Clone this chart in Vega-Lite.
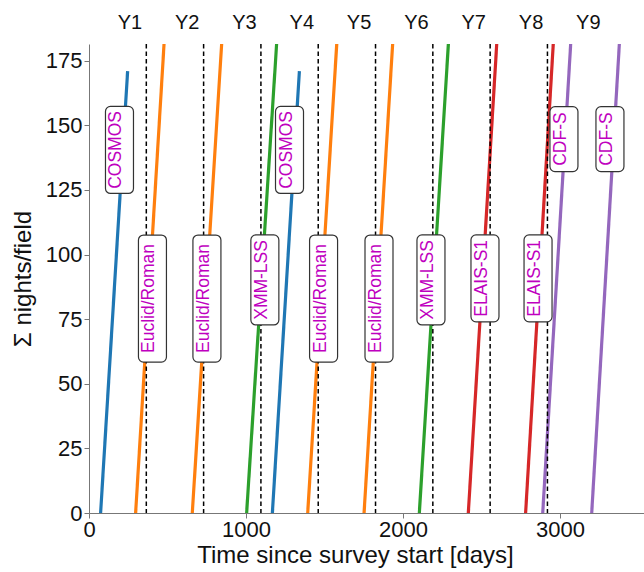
{
  "$schema": "https://vega.github.io/schema/vega-lite/v6.json",
  "width": 555,
  "height": 469,
  "autosize": "none",
  "padding": {"left": 89, "top": 44, "right": 0, "bottom": 59},
  "config": {
    "view": {"stroke": null},
    "font": "Liberation Sans",
    "axis": {
      "grid": false,
      "labelFont": "Liberation Sans",
      "titleFont": "Liberation Sans",
      "labelFontSize": 22,
      "titleFontSize": 24,
      "titleFontWeight": "normal",
      "labelColor": "#111",
      "titleColor": "#111",
      "domainColor": "#777",
      "tickColor": "#777",
      "tickSize": 5,
      "labelFlush": false,
      "labelOverlap": false
    }
  },
  "datasets": {
    "tracks": [
      {"seg": 1, "field": "COSMOS", "day": 74, "nights": 0},
      {"seg": 1, "field": "COSMOS", "day": 246, "nights": 171},
      {"seg": 2, "field": "Euclid/Roman", "day": 297, "nights": 0},
      {"seg": 2, "field": "Euclid/Roman", "day": 478, "nights": 181.5},
      {"seg": 3, "field": "Euclid/Roman", "day": 658, "nights": 0},
      {"seg": 3, "field": "Euclid/Roman", "day": 845, "nights": 181.5},
      {"seg": 4, "field": "XMM-LSS", "day": 1004, "nights": 0},
      {"seg": 4, "field": "XMM-LSS", "day": 1195, "nights": 181.5},
      {"seg": 5, "field": "COSMOS", "day": 1168, "nights": 0},
      {"seg": 5, "field": "COSMOS", "day": 1340, "nights": 171},
      {"seg": 6, "field": "Euclid/Roman", "day": 1393, "nights": 0},
      {"seg": 6, "field": "Euclid/Roman", "day": 1578, "nights": 181.5},
      {"seg": 7, "field": "Euclid/Roman", "day": 1752, "nights": 0},
      {"seg": 7, "field": "Euclid/Roman", "day": 1934, "nights": 181.5},
      {"seg": 8, "field": "XMM-LSS", "day": 2104, "nights": 0},
      {"seg": 8, "field": "XMM-LSS", "day": 2289, "nights": 181.5},
      {"seg": 9, "field": "ELAIS-S1", "day": 2416, "nights": 0},
      {"seg": 9, "field": "ELAIS-S1", "day": 2597, "nights": 181.5},
      {"seg": 10, "field": "ELAIS-S1", "day": 2781, "nights": 0},
      {"seg": 10, "field": "ELAIS-S1", "day": 2957, "nights": 181.5},
      {"seg": 11, "field": "CDF-S", "day": 2890, "nights": 0},
      {"seg": 11, "field": "CDF-S", "day": 3068, "nights": 181.5},
      {"seg": 12, "field": "CDF-S", "day": 3202, "nights": 0},
      {"seg": 12, "field": "CDF-S", "day": 3378, "nights": 181.5}
    ],
    "yearEnds": [
      {"day": 365}, {"day": 730}, {"day": 1095}, {"day": 1460},
      {"day": 1825}, {"day": 2190}, {"day": 2555}, {"day": 2920}
    ],
    "years": [
      {"year": "Y1", "day": 182.5}, {"year": "Y2", "day": 547.5},
      {"year": "Y3", "day": 912.5}, {"year": "Y4", "day": 1277.5},
      {"year": "Y5", "day": 1642.5}, {"year": "Y6", "day": 2007.5},
      {"year": "Y7", "day": 2372.5}, {"year": "Y8", "day": 2737.5},
      {"year": "Y9", "day": 3102.5}
    ],
    "labels": [
      {"field": "COSMOS", "day": 175, "nights": 140.5},
      {"field": "Euclid/Roman", "day": 385, "nights": 83},
      {"field": "Euclid/Roman", "day": 732, "nights": 83},
      {"field": "XMM-LSS", "day": 1101, "nights": 90.2},
      {"field": "COSMOS", "day": 1258, "nights": 140.5},
      {"field": "Euclid/Roman", "day": 1475, "nights": 83},
      {"field": "Euclid/Roman", "day": 1828, "nights": 83},
      {"field": "XMM-LSS", "day": 2159, "nights": 90.2},
      {"field": "ELAIS-S1", "day": 2503, "nights": 90.8},
      {"field": "ELAIS-S1", "day": 2841, "nights": 90.8},
      {"field": "CDF-S", "day": 3006, "nights": 144.7},
      {"field": "CDF-S", "day": 3299, "nights": 144.7}
    ]
  },
  "layer": [
    {
      "data": {"name": "tracks"},
      "mark": {"type": "line", "strokeWidth": 3.2, "clip": true},
      "encoding": {
        "x": {
          "field": "day",
          "type": "quantitative",
          "scale": {"domain": [0, 3535], "nice": false, "zero": false},
          "axis": {
            "title": "Time since survey start [days]",
            "values": [0, 1000, 2000, 3000],
            "format": "d",
            "labelPadding": 1,
            "titlePadding": 3,
            "titleX": 266
          }
        },
        "y": {
          "field": "nights",
          "type": "quantitative",
          "scale": {"domain": [0, 181.5], "nice": false},
          "axis": {
            "title": "Σ nights/field",
            "values": [0, 25, 50, 75, 100, 125, 150, 175],
            "labelPadding": 2,
            "titlePadding": 10
          }
        },
        "color": {
          "field": "field",
          "type": "nominal",
          "scale": {
            "domain": ["COSMOS", "Euclid/Roman", "XMM-LSS", "ELAIS-S1", "CDF-S"],
            "range": ["#1f77b4", "#ff7f0e", "#2ca02c", "#d62728", "#9467bd"]
          },
          "legend": null
        },
        "detail": {"field": "seg", "type": "nominal"}
      }
    },
    {
      "data": {"name": "yearEnds"},
      "mark": {"type": "rule", "color": "black", "strokeWidth": 1.5, "strokeDash": [4.5, 3]},
      "encoding": {
        "x": {"field": "day", "type": "quantitative"}
      }
    },
    {
      "mark": {"type": "rule", "color": "#777", "strokeWidth": 1},
      "encoding": {
        "y": {"datum": 181.5}
      }
    },
    {
      "data": {"name": "labels"},
      "mark": {"type": "point", "size": 4, "filled": false, "fill": "white", "fillOpacity": 1, "opacity": 1, "stroke": "#333", "strokeWidth": 1.2},
      "encoding": {
        "x": {"field": "day", "type": "quantitative"},
        "y": {"field": "nights", "type": "quantitative"},
        "shape": {
          "field": "field",
          "type": "nominal",
          "scale": {
            "domain": ["COSMOS", "Euclid/Roman", "XMM-LSS", "ELAIS-S1", "CDF-S"],
            "range": [
              "M-6,-43.5H12A5,5,0,0,1,17,-38.5V38.5A5,5,0,0,1,12,43.5H-6A5,5,0,0,1,-11,38.5V-38.5A5,5,0,0,1,-6,-43.5Z",
              "M-6,-63.5H12A5,5,0,0,1,17,-58.5V58.5A5,5,0,0,1,12,63.5H-6A5,5,0,0,1,-11,58.5V-58.5A5,5,0,0,1,-6,-63.5Z",
              "M-6,-45H12A5,5,0,0,1,17,-40V40A5,5,0,0,1,12,45H-6A5,5,0,0,1,-11,40V-40A5,5,0,0,1,-6,-45Z",
              "M-6,-43.5H12A5,5,0,0,1,17,-38.5V38.5A5,5,0,0,1,12,43.5H-6A5,5,0,0,1,-11,38.5V-38.5A5,5,0,0,1,-6,-43.5Z",
              "M-6,-32.5H12A5,5,0,0,1,17,-27.5V27.5A5,5,0,0,1,12,32.5H-6A5,5,0,0,1,-11,27.5V-27.5A5,5,0,0,1,-6,-32.5Z"
            ]
          },
          "legend": null
        }
      }
    },
    {
      "data": {"name": "labels"},
      "mark": {"type": "text", "angle": 270, "align": "center", "baseline": "middle", "fontSize": 17.5, "font": "Liberation Sans", "color": "#bf00bf"},
      "encoding": {
        "x": {"field": "day", "type": "quantitative"},
        "y": {"field": "nights", "type": "quantitative"},
        "text": {"field": "field"}
      }
    },
    {
      "data": {"name": "years"},
      "mark": {"type": "text", "align": "left", "baseline": "alphabetic", "fontSize": 20, "font": "Liberation Sans", "color": "#111"},
      "encoding": {
        "x": {"field": "day", "type": "quantitative"},
        "y": {"datum": 187.4},
        "text": {"field": "year"}
      }
    }
  ]
}
